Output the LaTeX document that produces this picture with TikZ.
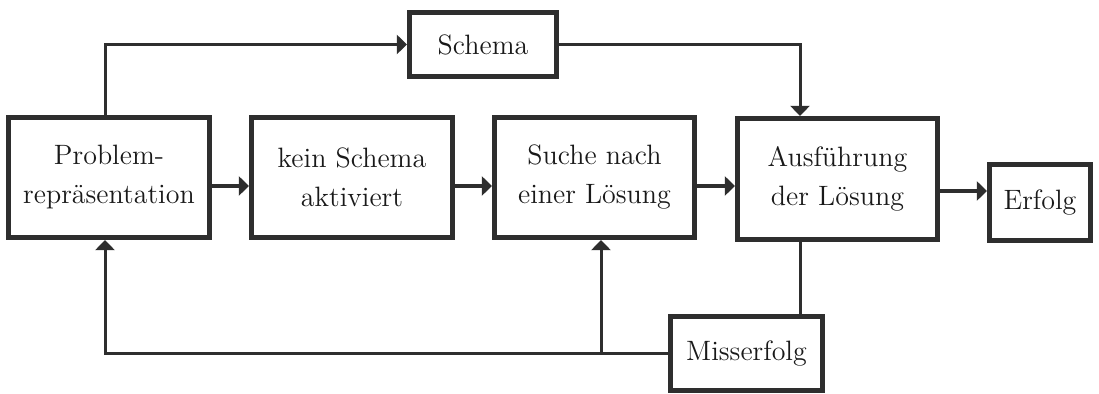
\documentclass[tikz,border=0pt]{standalone}
\usetikzlibrary{arrows.meta}
\definecolor{ink}{HTML}{2E2E2E}
\begin{document}
\begin{tikzpicture}[x=0.5pt,y=-0.5pt,
  box/.style={draw=ink, line width=2.6pt, fill=white, inner sep=0pt,
    align=center, text=black!90, font=\fontsize{14pt}{19.5pt}\selectfont},
  link/.style={draw=ink, line width=1.5pt},
  flow/.style={draw=ink, line width=2pt},
  tip/.style={-{Triangle[length=5pt,width=9.5pt]}}]
\useasboundingbox (0,0) rectangle (1099,394);

% boxes
\node[box, minimum width=100.5pt, minimum height=60pt]   (prob) at (109,177.5)   {Problem-\\repräsentation};
\node[box, minimum width=100.5pt, minimum height=60pt]   (kein) at (352,177.5)   {kein Schema\\aktiviert};
\node[box, minimum width=100pt,   minimum height=60pt]   (such) at (594.5,177.5) {Suche nach\\einer Lösung};
\node[box, minimum width=100pt,   minimum height=60.5pt] (ausf) at (837.5,179)  {Ausführung\\der Lösung};
\node[box, minimum width=50.5pt,  minimum height=38pt]   (erf)  at (1040,202.5)  {Erfolg};
\node[box, minimum width=73.5pt,  minimum height=32pt]   (sch)  at (483,44.5)    {Schema};
\node[box, minimum width=76pt,    minimum height=37pt]   (miss) at (746.5,353.5) {Misserfolg};

% routing columns and rows
\coordinate (xl) at (105,0);
\coordinate (xm) at (601,0);
\coordinate (xr) at (800,0);
\coordinate (ya) at (0,186);
\coordinate (yb) at (0,191);

% main chain
\draw[flow,tip] (prob.east |- ya) -- (kein.west |- ya);
\draw[flow,tip] (kein.east |- ya) -- (such.west |- ya);
\draw[flow,tip] (such.east |- ya) -- (ausf.west |- ya);
\draw[flow,tip] (ausf.east |- yb) -- (erf.west |- yb);

% schema route
\draw[link,tip] (prob.north -| xl) |- (sch.west);
\draw[link,tip] (sch.east) -| (ausf.north -| xr);

% failure feedback
\draw[link] (ausf.south -| xr) -- (miss.north -| xr);
\draw[link,tip] (miss.west) -| (prob.south -| xl);
\draw[link,tip] (miss.west -| xm) -- (such.south -| xm);
\end{tikzpicture}
\end{document}
